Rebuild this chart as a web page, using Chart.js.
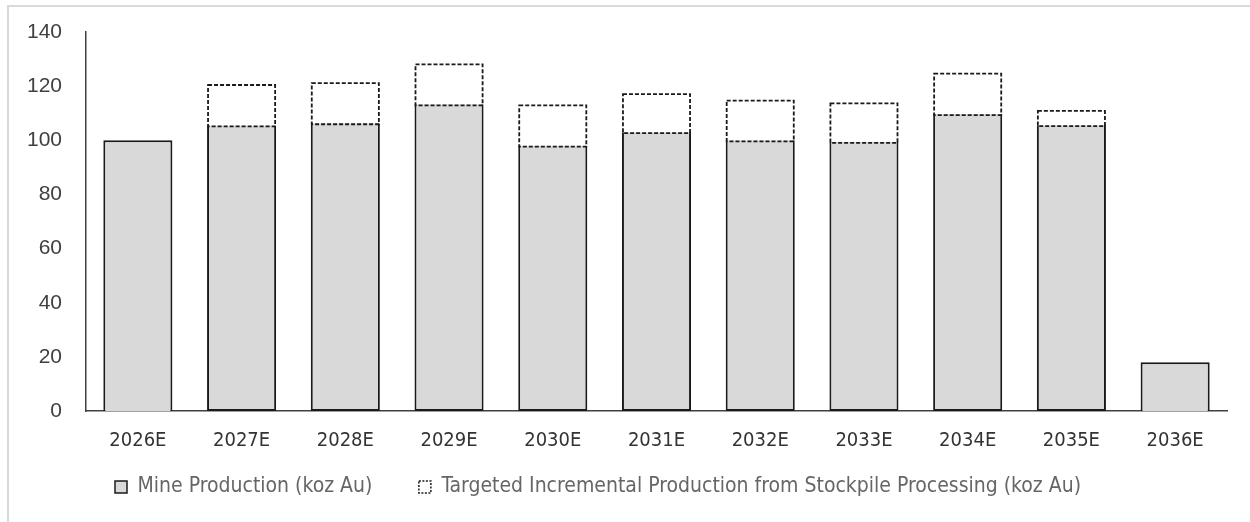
<!DOCTYPE html>
<html>
<head>
<meta charset="utf-8">
<script src="https://cdn.jsdelivr.net/npm/chart.js@4.4.1/dist/chart.umd.min.js"></script>
<style>
  html, body { margin: 0; padding: 0; background: #fff; overflow: hidden; }
  #frame { position: absolute; left: 7px; top: 5px; width: 2000px; height: 2000px;
           border-left: 2px solid #d9d9d9; border-top: 2px solid #d9d9d9; }
  #wrap { position: absolute; left: 0; top: 0; width: 1250px; height: 522px; }
</style>
</head>
<body>
<div id="frame"></div>
<div id="wrap"><canvas id="prodChart"></canvas></div>
<script>
const years = ['2026E', '2027E', '2028E', '2029E', '2030E', '2031E', '2032E', '2033E', '2034E', '2035E', '2036E'];
const mineProduction = [100, 105.5, 106.3, 113.3, 98, 103, 100, 99.4, 109.7, 105.6, 18];
const stockpileIncrement = [0, 15.3, 15.2, 15.1, 15.3, 14.4, 15, 14.6, 15.3, 5.6, 0];

const narrow = "'Liberation Sans Narrow', 'DejaVu Sans Condensed', sans-serif";

// Chart.js bars can't dash their borders, so stroke the stockpile bars ourselves
const dashedBars = {
  id: 'dashedBars',
  afterLayout(chart) {
    // legend sits under the first bars, not centered
    chart.legend.left = 68.5;
    chart.legend.top = 430;
  },
  afterDatasetsDraw(chart) {
    const ctx = chart.ctx;
    const meta = chart.getDatasetMeta(1);
    ctx.save();
    ctx.strokeStyle = '#1a1a1a';
    ctx.lineWidth = 1.8;
    ctx.setLineDash([4, 2]);
    meta.data.forEach((bar, i) => {
      if (!stockpileIncrement[i]) return;
      const { x, y, base, width } = bar.getProps(['x', 'y', 'base', 'width'], true);
      ctx.strokeRect(x - width / 2 + 1, y + 1, width - 2, base - y);
    });
    ctx.restore();
  }
};

new Chart(document.getElementById('prodChart'), {
  type: 'bar',
  data: {
    labels: years,
    datasets: [
      {
        label: 'Mine Production (koz Au)',
        data: mineProduction,
        backgroundColor: '#d9d9d9',
        borderColor: '#1a1a1a',
        borderWidth: 2,
        borderSkipped: c => stockpileIncrement[c.dataIndex] > 0 ? 'top' : 'bottom'
      },
      {
        label: 'Targeted Incremental Production from Stockpile Processing (koz Au)',
        data: stockpileIncrement,
        backgroundColor: '#fff',
        borderWidth: 0
      }
    ]
  },
  plugins: [dashedBars],
  options: {
    responsive: true,
    maintainAspectRatio: false,
    animation: false,
    datasets: { bar: { barPercentage: 0.666, categoryPercentage: 1 } },
    layout: { padding: { left: 0, top: 32, right: 23, bottom: 0 } },
    plugins: {
      tooltip: { enabled: false },
      legend: {
        position: 'bottom',
        align: 'start',
        maxHeight: 51,
        labels: {
          boxWidth: 12,
          boxHeight: 12,
          padding: 46.5,
          font: { family: narrow, size: 21 },
          generateLabels: chart => chart.data.datasets.map((ds, i) => ({
            text: ds.label,
            fillStyle: ds.backgroundColor,
            strokeStyle: '#1a1a1a',
            fontColor: '#666',
            lineWidth: 1.5,
            lineDash: i === 1 ? [2, 1.5] : [],
            datasetIndex: i
          }))
        }
      }
    },
    scales: {
      x: {
        stacked: true,
        grid: { display: false, drawTicks: false },
        border: { display: true, color: '#404040', width: 1.5 },
        ticks: { color: '#333', padding: 18, font: { family: narrow, size: 20 } },
        afterFit: s => { s.height = 60; }
      },
      y: {
        stacked: true,
        min: 0,
        max: 140,
        grid: { display: false, drawTicks: false },
        border: { display: true, color: '#404040', width: 1.5 },
        ticks: { stepSize: 20, color: '#404040', padding: 24, font: { family: "'Liberation Sans', Arial, sans-serif", size: 21 } },
        afterFit: s => { s.width = 86; s.paddingTop = 0; s.paddingBottom = 0; }
      }
    }
  }
});
</script>
</body>
</html>
